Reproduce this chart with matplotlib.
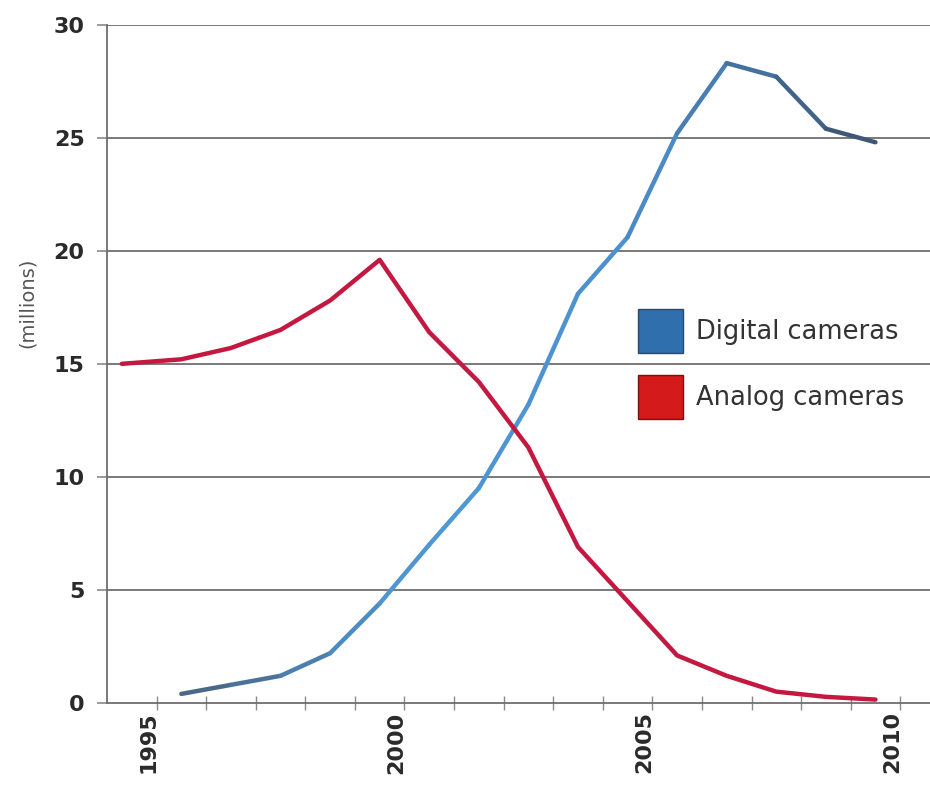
import numpy as np
import matplotlib.pyplot as plt
from matplotlib.collections import LineCollection
from matplotlib.colors import LinearSegmentedColormap
from matplotlib.patches import Patch
from matplotlib.transforms import ScaledTranslation

# datos (millones de cámaras vendidas)
digital_years = [1995.5, 1996.5, 1997.5, 1998.5, 1999.5, 2000.5, 2001.5, 2002.5,
                 2003.5, 2004.5, 2005.5, 2006.5, 2007.5, 2008.5, 2009.5]
digital_vals = [0.4, 0.8, 1.2, 2.2, 4.4, 7.0, 9.5, 13.2,
                18.1, 20.6, 25.2, 28.3, 27.7, 25.4, 24.8]

analog_years = [1994.3, 1995.5, 1996.5, 1997.5, 1998.5, 1999.5, 2000.5, 2001.5,
                2002.5, 2003.5, 2004.5, 2005.5, 2006.5, 2007.5, 2008.5, 2009.5]
analog_vals = [15.0, 15.2, 15.7, 16.5, 17.8, 19.6, 16.4, 14.2,
               11.3, 6.9, 4.5, 2.1, 1.2, 0.5, 0.27, 0.15]

year_ticks = [1995, 2000, 2005, 2010]
y_ticks = [0, 5, 10, 15, 20, 25, 30]
legend_labels = ['Digital cameras', 'Analog cameras']

fig = plt.figure(figsize=(9.3, 7.97), dpi=100)
ax = fig.add_axes([0.115, 0.118, 0.885, 0.851])

# lineas de la rejilla
for y in y_ticks[1:]:
    ax.axhline(y, color='#6e6e6e', linewidth=1.3, zorder=1)

# linea digital con degradado
cmap = LinearSegmentedColormap.from_list('dig', ['#4a6888', '#4f9ad8', '#4c8fcc', '#3f5878'])
pts = np.column_stack([digital_years, digital_vals])
segs = np.stack([pts[:-1], pts[1:]], axis=1)
lc = LineCollection(segs, cmap=cmap, linewidth=3.2, capstyle='round', joinstyle='round', zorder=3)
lc.set_array(np.linspace(0, 1, len(segs)))
ax.add_collection(lc)

# linea analogica
ax.plot(analog_years, analog_vals, color='#c41840', linewidth=3.2,
        solid_joinstyle='round', solid_capstyle='round', zorder=3)

ax.set_xlim(1994.0, 2010.6)
ax.set_ylim(0, 30)

for s in ['top', 'right']:
    ax.spines[s].set_visible(False)
for s in ['left', 'bottom']:
    ax.spines[s].set_color('#6e6e6e')
    ax.spines[s].set_linewidth(1.3)

ax.set_yticks(y_ticks)
ax.set_yticklabels([str(v) for v in y_ticks], fontsize=16, fontweight='bold', color='#2a2a2a')
ax.tick_params(axis='y', length=7, width=1.2, color='#8a8a8a', pad=9)

ax.set_xticks(year_ticks)
ax.set_xticklabels([str(v) for v in year_ticks], rotation=90, fontsize=16,
                   fontweight='bold', color='#2a2a2a')
ax.set_xticks(np.arange(1995, 2011), minor=True)
ax.tick_params(axis='x', which='both', length=10, width=1.0, color='#8a8a8a',
               direction='inout', pad=1)
# etiquetas del eje x un poco a la izquierda de la marca
desplazar = ScaledTranslation(-8 / 100, 0, fig.dpi_scale_trans)
for lbl in ax.get_xticklabels():
    lbl.set_transform(lbl.get_transform() + desplazar)

ax.set_ylabel('(millions)', fontsize=14, color='#555555')
ax.yaxis.set_label_coords(-0.085, 0.59)

handles = [Patch(facecolor='#2f6fae', edgecolor='#2a4a6a'),
           Patch(facecolor='#d41a1a', edgecolor='#7a1010')]
ax.legend(handles, legend_labels, loc='center left', bbox_to_anchor=(0.645, 0.50),
          frameon=False, fontsize=18.5, handlelength=1.75, handleheight=2.27,
          labelspacing=0.85, handletextpad=0.5, borderpad=0, borderaxespad=0,
          labelcolor='#333333')

fig.savefig('out.png', dpi=100, facecolor='white')
